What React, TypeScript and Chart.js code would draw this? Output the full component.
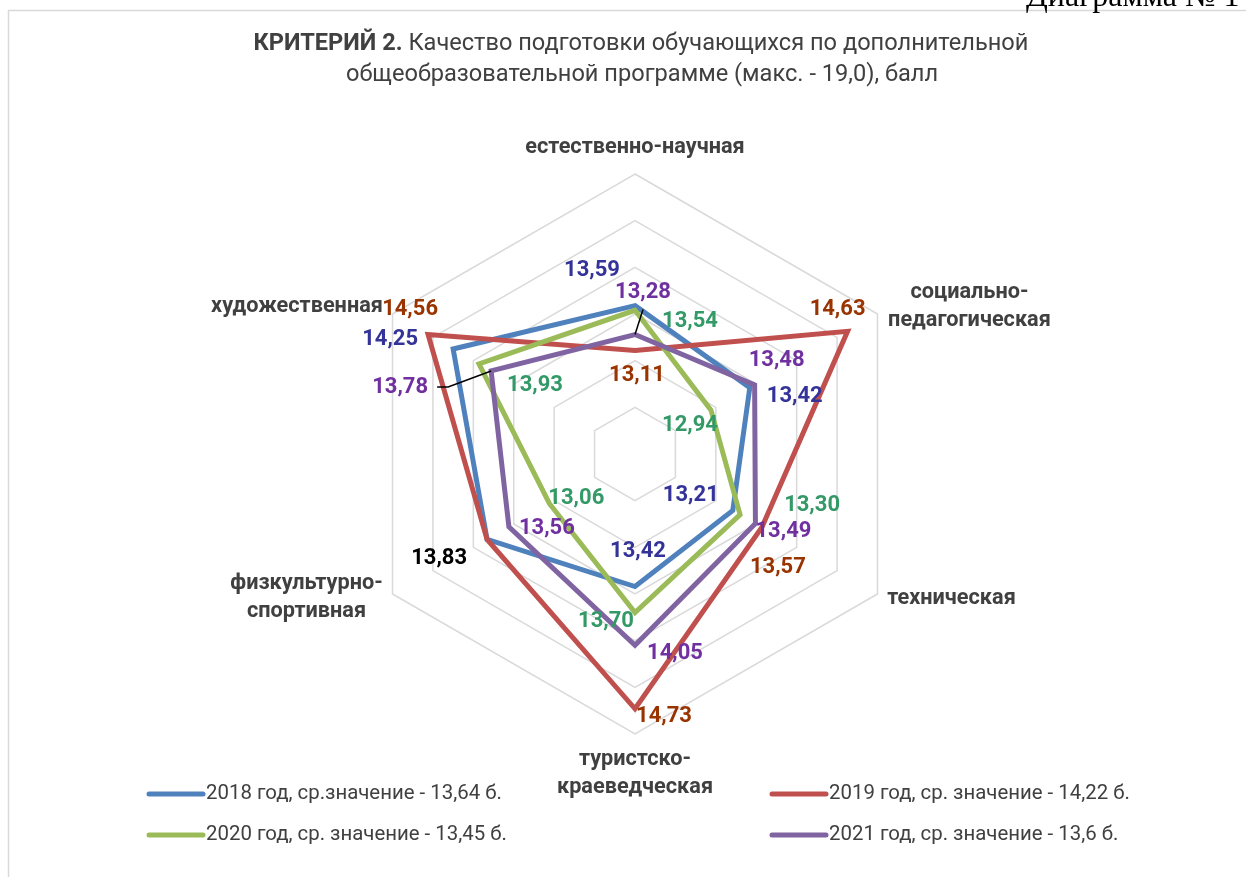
import React, { useEffect, useRef } from 'react';
import { Chart, registerables } from 'chart.js';

Chart.register(...registerables);

// ---------- data ----------
const categories: string[][] = [
  ['естественно-научная'],
  ['социально-', 'педагогическая'],
  ['техническая'],
  ['туристско-', 'краеведческая'],
  ['физкультурно-', 'спортивная'],
  ['художественная'],
];

const seriesNames = [
  '2018 год, ср.значение - 13,64 б.',
  '2019 год, ср. значение - 14,22 б.',
  '2020 год, ср. значение - 13,45 б.',
  '2021 год, ср. значение - 13,6 б.',
];

const values2018 = [13.59, 13.42, 13.21, 13.42, 13.83, 14.25];
const values2019 = [13.11, 14.63, 13.57, 14.73, 13.83, 14.56];
const values2020 = [13.54, 12.94, 13.3, 13.7, 13.06, 13.93];
const values2021 = [13.28, 13.48, 13.49, 14.05, 13.56, 13.78];

const scaleMin = 12;
const scaleMax = 15;
const scaleStep = 0.5;

const titleBold = 'КРИТЕРИЙ 2.';
const titleRest = ' Качество подготовки обучающихся по дополнительной';
const titleLine2 = 'общеобразовательной программе (макс. - 19,0), балл';
const pageCaption = 'Диаграмма № 1';

// ---------- styles ----------
const seriesColors = ['#4F81BD', '#C0504D', '#9BBB59', '#8064A2'];
const labelColors = ['#333399', '#993300', '#339966', '#7030A0'];
const FONT = 'Roboto';
const TEXT = '#404040';

// offsets of each value label from its point (null = not shown)
const labelOffsets: (number[] | null)[][] = [
  [[-43, -35], [45, 9], [-42, -15], [3, -35], [-48, 19], [-63, -10]],
  [[2, 25], [-10, -22], [16, 40], [29, 8], null, [-18, -25]],
  [[55, 11], [-21, 15], [72, -9], [-29, 9], [27, -5], [56, 22]],
  [[8, -42], [22, -24], [28, 8], [40, 8], [38, 2], [-91, 17]],
];
const labelColorOverride: Record<string, string> = { '0-4': '#000000' };
const leaderLines: Record<string, number[][]> = {
  '3-0': [[0, 17]],
  '3-5': [[37, -1], [48, -1]],
};
const axisLabelOffsets = [[0, -26], [92, -7], [74, 5], [0, 39.5], [-86, 3.5], [-95.5, -7]];
const legendPos = [[147, 794], [770, 794], [147, 835], [770, 835]];

const fmt = (v: number) => v.toFixed(2).replace('.', ',');

const decorPlugin = {
  id: 'decor',
  beforeDraw(chart: any) {
    const ctx = chart.ctx as CanvasRenderingContext2D;
    ctx.save();
    // frame
    ctx.strokeStyle = '#d9d9d9';
    ctx.lineWidth = 1.5;
    ctx.beginPath();
    ctx.moveTo(8.5, 900);
    ctx.lineTo(8.5, 10.5);
    ctx.lineTo(1300, 10.5);
    ctx.stroke();
    // caption above frame
    ctx.fillStyle = '#000';
    ctx.font = '32px "Liberation Serif"';
    ctx.textAlign = 'left';
    ctx.textBaseline = 'alphabetic';
    ctx.fillText(pageCaption, 1026, 6);
    // title
    ctx.fillStyle = TEXT;
    ctx.textBaseline = 'middle';
    const fs = 23.6;
    ctx.font = `bold ${fs}px ${FONT}`;
    const wb = ctx.measureText(titleBold).width;
    ctx.font = `${fs}px ${FONT}`;
    const wr = ctx.measureText(titleRest).width;
    const x0 = 641 - (wb + wr) / 2;
    ctx.font = `bold ${fs}px ${FONT}`;
    ctx.fillText(titleBold, x0, 44);
    ctx.font = `${fs}px ${FONT}`;
    ctx.fillText(titleRest, x0 + wb, 44);
    ctx.textAlign = 'center';
    ctx.fillText(titleLine2, 642, 75);
    ctx.restore();
  },
  afterDraw(chart: any) {
    const ctx = chart.ctx as CanvasRenderingContext2D;
    const scale = chart.scales.r;
    ctx.save();
    // axis labels
    ctx.fillStyle = TEXT;
    ctx.font = `bold 21.7px ${FONT}`;
    ctx.textAlign = 'center';
    ctx.textBaseline = 'middle';
    const lh = 28;
    (chart.data.labels as string[][]).forEach((lines, i) => {
      const p = scale.getPointPosition(i, scale.drawingArea);
      const cx = p.x + axisLabelOffsets[i][0];
      const cy = p.y + axisLabelOffsets[i][1];
      lines.forEach((ln, j) => {
        ctx.fillText(ln, cx, cy + (j - (lines.length - 1) / 2) * lh);
      });
    });
    // legend
    ctx.font = `20.4px ${FONT}`;
    ctx.textAlign = 'left';
    chart.data.datasets.forEach((ds: any, i: number) => {
      const [lx, ly] = legendPos[i];
      ctx.strokeStyle = ds.borderColor;
      ctx.lineWidth = 5;
      ctx.lineCap = 'round';
      ctx.beginPath();
      ctx.moveTo(lx + 2, ly);
      ctx.lineTo(lx + 56, ly);
      ctx.stroke();
      ctx.fillStyle = TEXT;
      ctx.fillText(ds.label, lx + 59, ly);
    });
    ctx.restore();
  },
  afterDatasetsDraw(chart: any) {
    const ctx = chart.ctx as CanvasRenderingContext2D;
    ctx.save();
    ctx.font = `bold 22px ${FONT}`;
    ctx.textAlign = 'center';
    ctx.textBaseline = 'middle';
    chart.data.datasets.forEach((ds: any, di: number) => {
      const meta = chart.getDatasetMeta(di);
      meta.data.forEach((pt: any, i: number) => {
        const off = labelOffsets[di][i];
        if (!off) return;
        const lx = pt.x + off[0];
        const ly = pt.y + off[1];
        const key = `${di}-${i}`;
        const lead = leaderLines[key];
        if (lead) {
          ctx.strokeStyle = '#000';
          ctx.lineWidth = 1.5;
          ctx.beginPath();
          ctx.moveTo(lx + lead[0][0], ly + lead[0][1]);
          for (let k = 1; k < lead.length; k++) ctx.lineTo(lx + lead[k][0], ly + lead[k][1]);
          ctx.lineTo(pt.x, pt.y);
          ctx.stroke();
        }
        ctx.fillStyle = labelColorOverride[key] || labelColors[di];
        ctx.fillText(fmt(ds.data[i]), lx, ly);
      });
    });
    ctx.restore();
  },
};

export default function App() {
  const ref = useRef<HTMLCanvasElement | null>(null);
  useEffect(() => {
    if (!ref.current) return;
    const allValues = [values2018, values2019, values2020, values2021];
    const chart = new Chart(ref.current, {
      type: 'radar',
      data: {
        labels: categories as any,
        datasets: allValues.map((vals, i) => ({
          label: seriesNames[i],
          data: vals,
          borderColor: seriesColors[i],
          backgroundColor: seriesColors[i],
          borderWidth: 5,
          pointRadius: 0,
          pointHoverRadius: 0,
          fill: false,
          order: 4 - i,
        })),
      },
      options: {
        responsive: false,
        animation: false,
        devicePixelRatio: 1,
        layout: { padding: { top: 174, bottom: 143, left: 335, right: 311 } },
        plugins: {
          legend: { display: false },
          title: { display: false },
          tooltip: { enabled: false },
        },
        scales: {
          r: {
            min: scaleMin,
            max: scaleMax,
            ticks: { stepSize: scaleStep, display: false },
            grid: { color: '#d9d9d9', lineWidth: 1.5 },
            angleLines: { display: false },
            pointLabels: { display: false },
          },
        },
      },
      plugins: [decorPlugin],
    });
    return () => chart.destroy();
  }, []);
  return (
    <div style={{ position: 'fixed', left: 0, top: 0, width: 1246, height: 877, background: '#fff' }}>
      <canvas ref={ref} width={1246} height={877} style={{ display: 'block' }} />
    </div>
  );
}
